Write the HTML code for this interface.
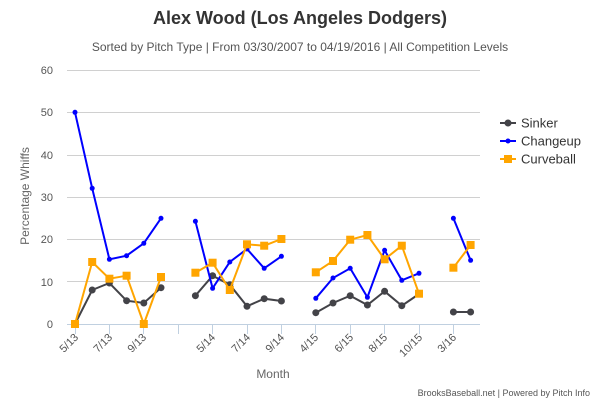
<!DOCTYPE html>
<html><head><meta charset="utf-8"><style>body{margin:0;background:#fff}svg{display:block;font-family:"Liberation Sans",sans-serif}</style></head><body>
<svg width="600" height="400" viewBox="0 0 600 400" xmlns="http://www.w3.org/2000/svg">
<text x="300" y="24" text-anchor="middle" font-size="18" font-weight="bold" fill="#333">Alex Wood (Los Angeles Dodgers)</text>
<text x="300" y="51" text-anchor="middle" font-size="12" fill="#555">Sorted by Pitch Type | From 03/30/2007 to 04/19/2016 | All Competition Levels</text>
<g stroke="#d0d0d0" stroke-width="1">
<line x1="67" y1="70.5" x2="480" y2="70.5"/><line x1="67" y1="112.5" x2="480" y2="112.5"/><line x1="67" y1="155.5" x2="480" y2="155.5"/><line x1="67" y1="197.5" x2="480" y2="197.5"/><line x1="67" y1="239.5" x2="480" y2="239.5"/><line x1="67" y1="281.5" x2="480" y2="281.5"/>
</g>
<line x1="67" y1="324.5" x2="480" y2="324.5" stroke="#C0D0E0"/>
<g stroke="#C0D0E0">
<line x1="75.5" y1="324" x2="75.5" y2="334"/><line x1="109.5" y1="324" x2="109.5" y2="334"/><line x1="143.5" y1="324" x2="143.5" y2="334"/><line x1="178.5" y1="324" x2="178.5" y2="334"/><line x1="212.5" y1="324" x2="212.5" y2="334"/><line x1="247.5" y1="324" x2="247.5" y2="334"/><line x1="281.5" y1="324" x2="281.5" y2="334"/><line x1="315.5" y1="324" x2="315.5" y2="334"/><line x1="350.5" y1="324" x2="350.5" y2="334"/><line x1="384.5" y1="324" x2="384.5" y2="334"/><line x1="419.5" y1="324" x2="419.5" y2="334"/><line x1="453.5" y1="324" x2="453.5" y2="334"/>
</g>
<g font-size="11" fill="#555" text-anchor="end">
<text x="53" y="74">60</text><text x="53" y="116">50</text><text x="53" y="159">40</text><text x="53" y="201">30</text><text x="53" y="243">20</text><text x="53" y="286">10</text><text x="53" y="328">0</text>
</g>
<g font-size="11" fill="#555" text-anchor="end">
<text transform="translate(79,338) rotate(-45)">5/13</text>
<text transform="translate(113,338) rotate(-45)">7/13</text>
<text transform="translate(147,338) rotate(-45)">9/13</text>
<text transform="translate(216,338) rotate(-45)">5/14</text>
<text transform="translate(251,338) rotate(-45)">7/14</text>
<text transform="translate(285,338) rotate(-45)">9/14</text>
<text transform="translate(319,338) rotate(-45)">4/15</text>
<text transform="translate(354,338) rotate(-45)">6/15</text>
<text transform="translate(388,338) rotate(-45)">8/15</text>
<text transform="translate(423,338) rotate(-45)">10/15</text>
<text transform="translate(457,338) rotate(-45)">3/16</text>
</g>
<text transform="translate(29,196) rotate(-90)" text-anchor="middle" font-size="12" fill="#666">Percentage Whiffs</text>
<text x="273" y="378" text-anchor="middle" font-size="12" fill="#666">Month</text>
<text x="590" y="396" text-anchor="end" font-size="9" fill="#555">BrooksBaseball.net | Powered by Pitch Info</text>
<g stroke="#434348" stroke-width="2" fill="none">
<polyline points="75,324 92.2,290 109.4,283 126.6,300.7 143.8,303 161,287.7"/>
<polyline points="195.4,295.7 212.6,275.7 229.8,284.7 247,306.3 264.2,298.7 281.4,301"/>
<polyline points="315.8,312.7 333,303 350.2,295.7 367.4,305 384.6,291.3 401.8,305.7 419,294"/>
<polyline points="453.4,312 470.6,312"/>
</g>
<g fill="#434348">
<circle cx="75" cy="324" r="3.5"/><circle cx="92.2" cy="290" r="3.5"/><circle cx="109.4" cy="283" r="3.5"/><circle cx="126.6" cy="300.7" r="3.5"/><circle cx="143.8" cy="303" r="3.5"/><circle cx="161" cy="287.7" r="3.5"/>
<circle cx="195.4" cy="295.7" r="3.5"/><circle cx="212.6" cy="275.7" r="3.5"/><circle cx="229.8" cy="284.7" r="3.5"/><circle cx="247" cy="306.3" r="3.5"/><circle cx="264.2" cy="298.7" r="3.5"/><circle cx="281.4" cy="301" r="3.5"/>
<circle cx="315.8" cy="312.7" r="3.5"/><circle cx="333" cy="303" r="3.5"/><circle cx="350.2" cy="295.7" r="3.5"/><circle cx="367.4" cy="305" r="3.5"/><circle cx="384.6" cy="291.3" r="3.5"/><circle cx="401.8" cy="305.7" r="3.5"/><circle cx="419" cy="294" r="3.5"/>
<circle cx="453.4" cy="312" r="3.5"/><circle cx="470.6" cy="312" r="3.5"/>
</g>
<g stroke="#0000ff" stroke-width="2" fill="none">
<polyline points="75,112.3 92.2,188.3 109.4,259.3 126.6,255.7 143.8,243.3 161,218.3"/>
<polyline points="195.4,221.3 212.6,288.3 229.8,262 247,249 264.2,268.3 281.4,256.3"/>
<polyline points="315.8,298.3 333,278 350.2,268.3 367.4,297.3 384.6,250.3 401.8,280.3 419,273.3"/>
<polyline points="453.4,218.3 470.6,260.3"/>
</g>
<g fill="#0000ff">
<circle cx="75" cy="112.3" r="2.5"/><circle cx="92.2" cy="188.3" r="2.5"/><circle cx="109.4" cy="259.3" r="2.5"/><circle cx="126.6" cy="255.7" r="2.5"/><circle cx="143.8" cy="243.3" r="2.5"/><circle cx="161" cy="218.3" r="2.5"/>
<circle cx="195.4" cy="221.3" r="2.5"/><circle cx="212.6" cy="288.3" r="2.5"/><circle cx="229.8" cy="262" r="2.5"/><circle cx="247" cy="249" r="2.5"/><circle cx="264.2" cy="268.3" r="2.5"/><circle cx="281.4" cy="256.3" r="2.5"/>
<circle cx="315.8" cy="298.3" r="2.5"/><circle cx="333" cy="278" r="2.5"/><circle cx="350.2" cy="268.3" r="2.5"/><circle cx="367.4" cy="297.3" r="2.5"/><circle cx="384.6" cy="250.3" r="2.5"/><circle cx="401.8" cy="280.3" r="2.5"/><circle cx="419" cy="273.3" r="2.5"/>
<circle cx="453.4" cy="218.3" r="2.5"/><circle cx="470.6" cy="260.3" r="2.5"/>
</g>
<g stroke="#FFA500" stroke-width="2" fill="none">
<polyline points="75,324 92.2,262 109.4,278.7 126.6,275.7 143.8,324 161,277"/>
<polyline points="195.4,272.7 212.6,262.7 229.8,290 247,244.3 264.2,245.7 281.4,239"/>
<polyline points="315.8,272.3 333,261 350.2,239.7 367.4,235 384.6,259.3 401.8,245.7 419,293.7"/>
<polyline points="453.4,267.7 470.6,245"/>
</g>
<g fill="#FFA500">
<rect x="71" y="320" width="8" height="8"/><rect x="88.2" y="258" width="8" height="8"/><rect x="105.4" y="274.7" width="8" height="8"/><rect x="122.6" y="271.7" width="8" height="8"/><rect x="139.8" y="320" width="8" height="8"/><rect x="157" y="273" width="8" height="8"/>
<rect x="191.4" y="268.7" width="8" height="8"/><rect x="208.6" y="258.7" width="8" height="8"/><rect x="225.8" y="286" width="8" height="8"/><rect x="243" y="240.3" width="8" height="8"/><rect x="260.2" y="241.7" width="8" height="8"/><rect x="277.4" y="235" width="8" height="8"/>
<rect x="311.8" y="268.3" width="8" height="8"/><rect x="329" y="257" width="8" height="8"/><rect x="346.2" y="235.7" width="8" height="8"/><rect x="363.4" y="231" width="8" height="8"/><rect x="380.6" y="255.3" width="8" height="8"/><rect x="397.8" y="241.7" width="8" height="8"/><rect x="415" y="289.7" width="8" height="8"/>
<rect x="449.4" y="263.7" width="8" height="8"/><rect x="466.6" y="241" width="8" height="8"/>
</g>
<g font-size="13" fill="#333">
<line x1="500" y1="123" x2="516" y2="123" stroke="#434348" stroke-width="2"/><circle cx="508" cy="123" r="3.5" fill="#434348"/><text x="521" y="127.5">Sinker</text>
<line x1="500" y1="141" x2="516" y2="141" stroke="#0000ff" stroke-width="2"/><circle cx="508" cy="141" r="2.5" fill="#0000ff"/><text x="521" y="145.5">Changeup</text>
<line x1="500" y1="159" x2="516" y2="159" stroke="#FFA500" stroke-width="2"/><rect x="504" y="155" width="8" height="8" fill="#FFA500"/><text x="521" y="163.5">Curveball</text>
</g>
</svg>
</body></html>
